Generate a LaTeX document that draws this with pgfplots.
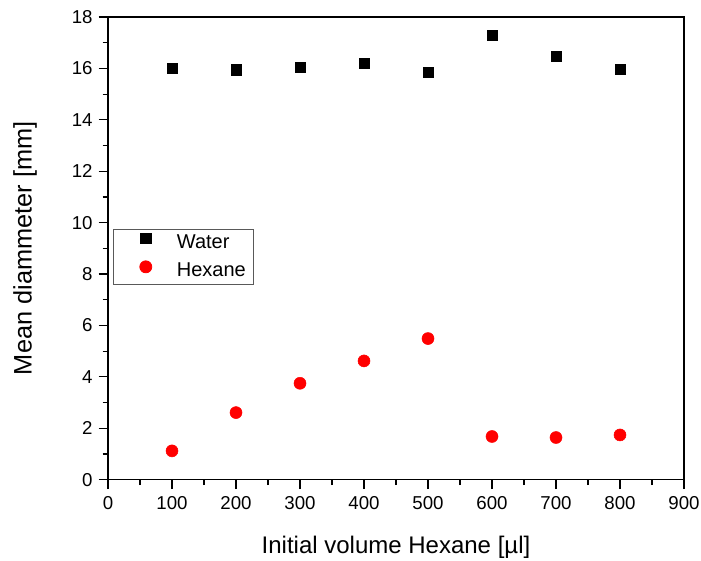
\documentclass[border=0pt]{standalone}
\usepackage{pgfplots}
\pgfplotsset{compat=1.18}
\usepackage{fontspec}
\setmainfont{Liberation Sans}
\definecolor{hexred}{RGB}{255,0,0}
% legend entry: a single mark set well inside a wide cell
\pgfplotsset{wide mark legend/.style={
  legend image code/.code={\path (0pt,0pt) (40pt,0pt); \draw[##1] plot coordinates {(24pt,3.5pt)};}}}
\begin{document}
\begin{tikzpicture}
\begin{axis}[
  scale only axis,
  width=432pt, height=347pt,
  xmin=0, xmax=900, ymin=0, ymax=18,
  xtick={0,100,...,900}, ytick={0,2,...,18},
  minor x tick num=1, minor y tick num=1,
  tick align=outside,
  xtick pos=bottom, ytick pos=left,
  major tick length=7pt, minor tick length=4pt,
  every tick/.style={black, line width=0.9pt},
  axis line style={line width=1.1pt},
  /pgf/number format/assume math mode=true,
  /pgf/number format/1000 sep={},
  xticklabel style={font=\fontsize{14}{16}\selectfont, yshift=-2pt},
  yticklabel style={font=\fontsize{14}{16}\selectfont, xshift=-1pt},
  xlabel={Initial volume Hexane [µl]},
  ylabel={Mean diammeter [mm]},
  every axis x label/.style={at={(axis description cs:0.5,-0.1465)}, anchor=center,
    font=\fontsize{18}{20}\selectfont},
  every axis y label/.style={at={(axis description cs:-0.1441,0.5)}, anchor=center,
    rotate=90, font=\fontsize{19}{21}\selectfont},
  legend style={at={(axis description cs:0.0087,0.542)}, anchor=north west,
    draw=black!65, line width=0.6pt,
    font=\fontsize{15}{17}\selectfont, inner xsep=0pt, inner ysep=3pt,
    row sep=6.5pt, nodes={inner xsep=0pt, inner ysep=0pt, text height=10.5pt, text depth=3pt}},
  legend cell align=left,
]
\addplot[only marks, mark=square*, mark size=3.9pt, black, wide mark legend]
  coordinates {
  (100,16.00) (200,15.95) (300,16.04) (400,16.19)
  (500,15.85) (600,17.28) (700,16.47) (800,15.97)
};
\addlegendentry{\hspace*{7pt}Water}
\addplot[only marks, mark=*, mark size=4.5pt, hexred, wide mark legend]
  coordinates {
  (100,1.12) (200,2.61) (300,3.75) (400,4.62)
  (500,5.49) (600,1.68) (700,1.64) (800,1.74)
};
\addlegendentry{\hspace*{7pt}Hexane\hspace*{6pt}}
\coordinate (bl) at (rel axis cs:0,0);
\coordinate (tr) at (rel axis cs:1,1);
\end{axis}
\pgfresetboundingbox
\path ([xshift=-81pt,yshift=-60.75pt]bl) rectangle ([xshift=12.75pt,yshift=12.75pt]tr);
\end{tikzpicture}
\end{document}
